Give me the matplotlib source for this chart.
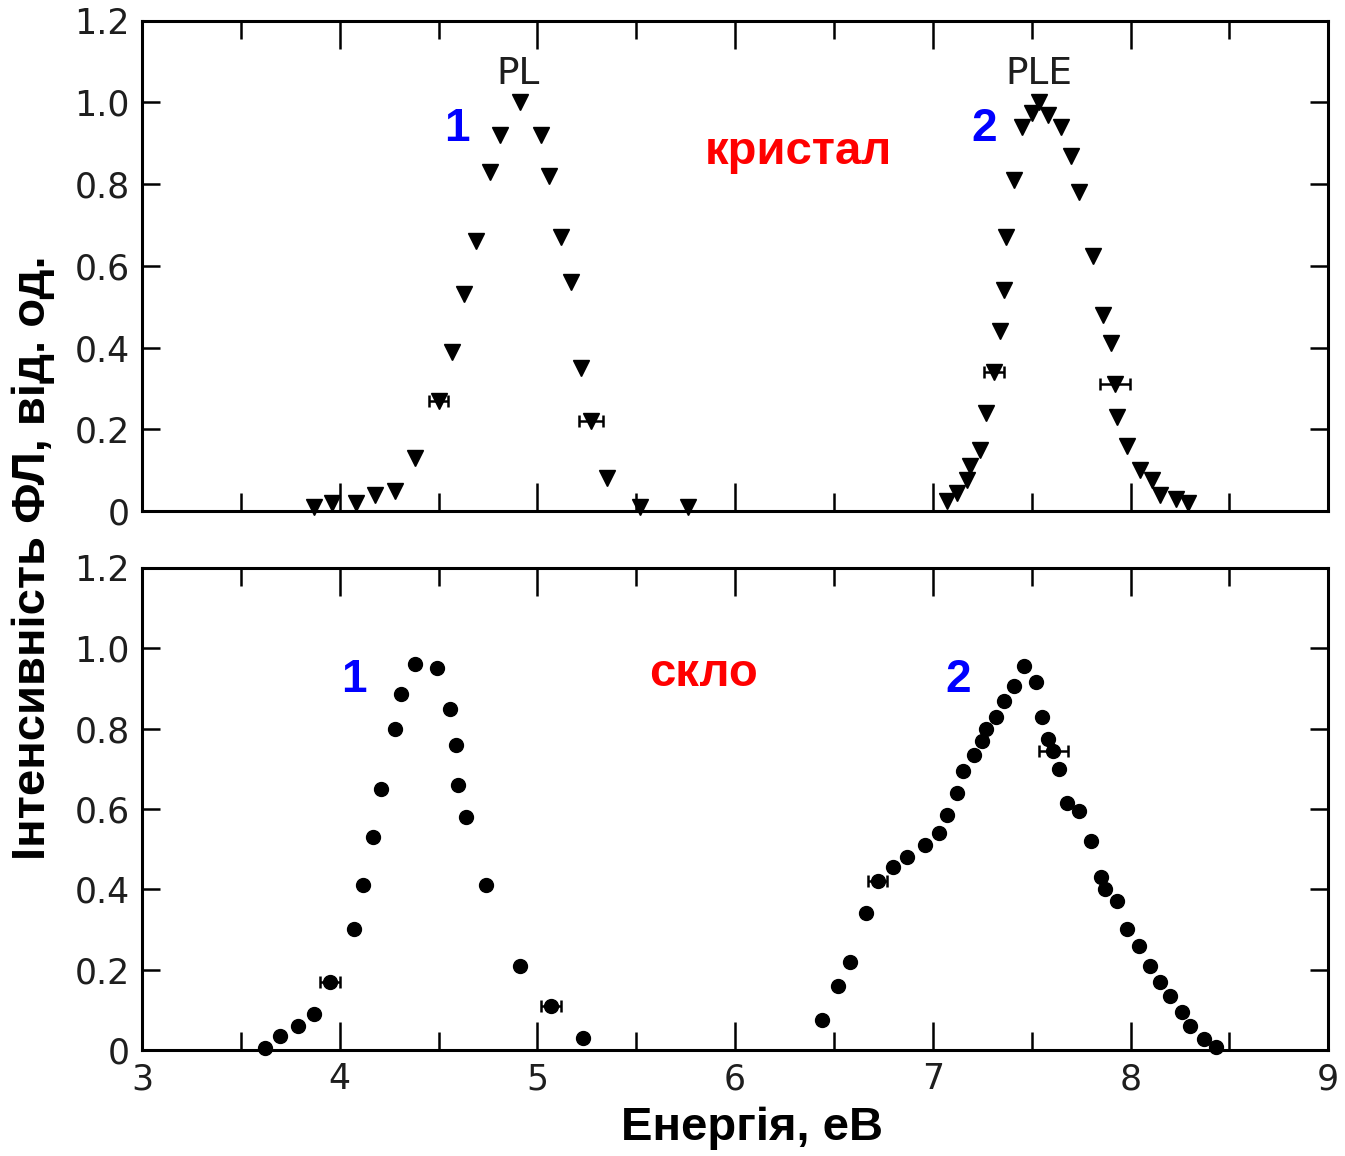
import matplotlib
matplotlib.use('Agg')
import matplotlib.pyplot as plt
from matplotlib.ticker import MultipleLocator
import numpy as np

# crystal: PL (curve 1) and PLE (curve 2), triangles
crystal_pl_e = [3.87, 3.96, 4.08, 4.18, 4.28, 4.38, 4.50, 4.57, 4.63, 4.69, 4.76, 4.81, 4.91,
                5.02, 5.06, 5.12, 5.17, 5.22, 5.27, 5.35, 5.52, 5.76]
crystal_pl_i = [0.01, 0.02, 0.02, 0.04, 0.05, 0.13, 0.27, 0.39, 0.53, 0.66, 0.83, 0.92, 1.00,
                0.92, 0.82, 0.67, 0.56, 0.35, 0.22, 0.08, 0.01, 0.01]
crystal_ple_e = [7.07, 7.12, 7.17, 7.19, 7.24, 7.27, 7.31, 7.34, 7.36, 7.37, 7.41, 7.45, 7.50,
                 7.535, 7.58, 7.65, 7.70, 7.74, 7.81, 7.86, 7.90, 7.92, 7.93, 7.98, 8.05, 8.11,
                 8.15, 8.23, 8.29]
crystal_ple_i = [0.025, 0.045, 0.075, 0.11, 0.15, 0.24, 0.34, 0.44, 0.54, 0.67, 0.81, 0.94, 0.975,
                 1.00, 0.97, 0.94, 0.87, 0.78, 0.625, 0.48, 0.41, 0.31, 0.23, 0.16, 0.10, 0.075,
                 0.04, 0.03, 0.02]
crystal_err_e = [4.50, 5.27, 7.31, 7.92]
crystal_err_i = [0.27, 0.22, 0.34, 0.31]
crystal_err_w = [0.05, 0.06, 0.05, 0.075]

# glass: PL (curve 1) and PLE (curve 2), circles
glass_pl_e = [3.62, 3.70, 3.79, 3.87, 3.95, 4.07, 4.12, 4.17, 4.21, 4.28, 4.31, 4.38, 4.49,
              4.56, 4.59, 4.60, 4.64, 4.74, 4.91, 5.07, 5.23]
glass_pl_i = [0.005, 0.035, 0.06, 0.09, 0.17, 0.30, 0.41, 0.53, 0.65, 0.80, 0.885, 0.96, 0.95,
              0.85, 0.76, 0.66, 0.58, 0.41, 0.21, 0.11, 0.03]
glass_ple_e = [6.44, 6.52, 6.58, 6.66, 6.72, 6.80, 6.87, 6.96, 7.03, 7.07, 7.12, 7.15, 7.21,
               7.25, 7.27, 7.32, 7.36, 7.41, 7.46, 7.52, 7.55, 7.58, 7.61, 7.64, 7.68, 7.74,
               7.80, 7.85, 7.87, 7.93, 7.98, 8.04, 8.10, 8.15, 8.20, 8.26, 8.30, 8.37, 8.43]
glass_ple_i = [0.075, 0.16, 0.22, 0.34, 0.42, 0.455, 0.48, 0.51, 0.54, 0.585, 0.64, 0.695, 0.735,
               0.77, 0.80, 0.83, 0.87, 0.905, 0.957, 0.915, 0.83, 0.775, 0.745, 0.70, 0.615, 0.595,
               0.52, 0.43, 0.40, 0.37, 0.30, 0.26, 0.21, 0.17, 0.135, 0.095, 0.06, 0.027, 0.007]
glass_err_e = [3.95, 5.07, 6.72, 7.61]
glass_err_i = [0.17, 0.11, 0.42, 0.745]
glass_err_w = [0.05, 0.05, 0.05, 0.075]

ytick_vals = [0, 0.2, 0.4, 0.6, 0.8, 1.0, 1.2]
ytick_labels = ['0', '0.2', '0.4', '0.6', '0.8', '1.0', '1.2']
xtick_vals = [3, 4, 5, 6, 7, 8, 9]

tick_font = 'DejaVu Sans'
bold_font = 'Liberation Sans'
tick_color = '#1e1e1e'

fig = plt.figure(figsize=(13.45, 11.56), dpi=100)
ax_top = fig.add_axes([0.1056, 0.558, 0.882, 0.424])
ax_bot = fig.add_axes([0.1056, 0.0917, 0.882, 0.4170])


def style_axes(ax, show_xlabels):
    ax.set_xlim(3, 9)
    ax.set_ylim(0, 1.2)
    for sp in ax.spines.values():
        sp.set_linewidth(2.2)
    ax.set_xticks(xtick_vals)
    ax.xaxis.set_minor_locator(MultipleLocator(0.5))
    ax.set_yticks(ytick_vals)
    ax.tick_params(axis='both', which='major', direction='in', top=True, right=True,
                   width=1.8, labelsize=25, pad=9, labelcolor=tick_color)
    ax.tick_params(axis='x', which='major', length=20)
    ax.tick_params(axis='x', which='minor', direction='in', top=True, length=13, width=1.8)
    ax.tick_params(axis='y', which='major', length=13)
    ax.set_yticklabels(ytick_labels, fontfamily=tick_font)
    if show_xlabels:
        ax.set_xticklabels([str(v) for v in xtick_vals], fontfamily=tick_font)
    else:
        ax.set_xticklabels([])


style_axes(ax_top, False)
style_axes(ax_bot, True)

# crystal panel
ax_top.plot(crystal_pl_e, crystal_pl_i, 'v', color='black', ms=11, clip_on=False)
ax_top.plot(crystal_ple_e, crystal_ple_i, 'v', color='black', ms=11, clip_on=False)
ax_top.errorbar(crystal_err_e, crystal_err_i, xerr=crystal_err_w, fmt='none',
                ecolor='black', elinewidth=1.8, capsize=4, capthick=1.8)
ax_top.text(4.90, 1.07, 'PL', fontsize=27, fontfamily=tick_font, color=tick_color,
            ha='center', va='center')
ax_top.text(7.535, 1.07, 'PLE', fontsize=27, fontfamily=tick_font, color=tick_color,
            ha='center', va='center')
ax_top.text(4.59, 0.935, '1', fontsize=33, fontweight='bold', fontfamily=bold_font,
            color='#0000ff', ha='center', va='center')
ax_top.text(7.26, 0.935, '2', fontsize=33, fontweight='bold', fontfamily=bold_font,
            color='#0000ff', ha='center', va='center')
ax_top.text(6.32, 0.88, 'кристал', fontsize=34, fontweight='bold', fontfamily=bold_font,
            color='#ff0000', ha='center', va='center')

# glass panel
ax_bot.plot(glass_pl_e, glass_pl_i, 'o', color='black', ms=10, clip_on=False)
ax_bot.plot(glass_ple_e, glass_ple_i, 'o', color='black', ms=10, clip_on=False)
ax_bot.errorbar(glass_err_e, glass_err_i, xerr=glass_err_w, fmt='none',
                ecolor='black', elinewidth=1.8, capsize=4, capthick=1.8)
ax_bot.text(4.07, 0.92, '1', fontsize=33, fontweight='bold', fontfamily=bold_font,
            color='#0000ff', ha='center', va='center')
ax_bot.text(7.13, 0.92, '2', fontsize=33, fontweight='bold', fontfamily=bold_font,
            color='#0000ff', ha='center', va='center')
ax_bot.text(5.84, 0.935, 'скло', fontsize=34, fontweight='bold', fontfamily=bold_font,
            color='#ff0000', ha='center', va='center')

fig.text(0.0245, 0.518, 'Інтенсивність ФЛ, від. од.', rotation=90, fontsize=34,
         fontweight='bold', fontfamily=bold_font, ha='center', va='center')
fig.text(0.559, 0.024, 'Енергія, еВ', fontsize=34, fontweight='bold',
         fontfamily=bold_font, ha='center', va='center')

fig.savefig('out.png', dpi=100)
